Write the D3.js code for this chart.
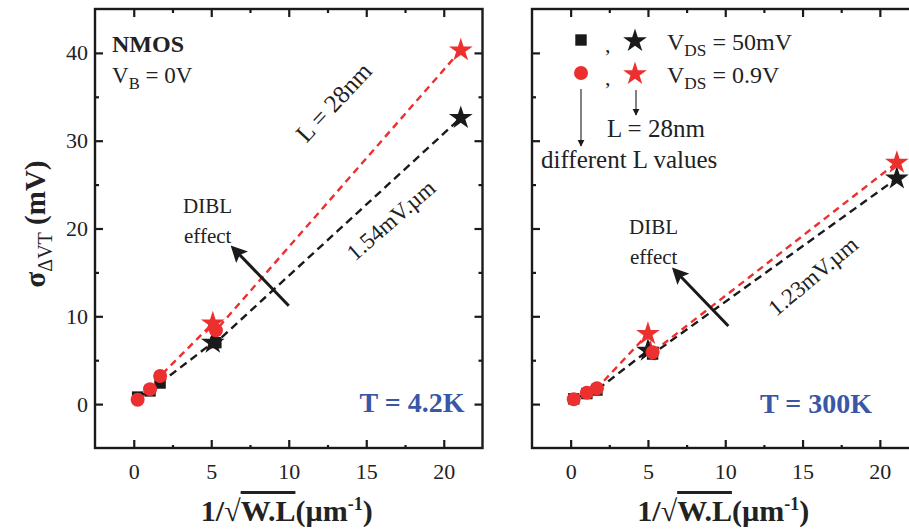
<!DOCTYPE html>
<html>
<head>
<meta charset="utf-8">
<script src="https://cdn.jsdelivr.net/npm/d3@7"></script>
<style>
  html, body { margin: 0; padding: 0; background: #fff; }
  svg { display: block; font-family: "Liberation Serif", "Times New Roman", serif; }
</style>
</head>
<body>
<svg id="chart" width="909" height="531"></svg>
<script>
// ---- data: sigma(ΔVT) in mV versus 1/sqrt(W·L) in µm^-1 ----
const xTicks = [0, 5, 10, 15, 20];
const xMinor = [2.5, 7.5, 12.5, 17.5];
const yTicks = [0, 10, 20, 30, 40];
const yMinor = [5, 15, 25, 35];

// T = 4.2 K
const cold_x_L      = [0.25, 1.05, 1.7, 5.3];   // different L values
const cold_sq_50mV  = [0.8, 1.5, 2.4, 7.0];     // squares, VDS = 50 mV
const cold_ci_09V   = [0.5, 1.7, 3.2, 8.4];     // circles, VDS = 0.9 V
const cold_x_28nm   = [5.1, 21.1];              // L = 28 nm
const cold_st_50mV  = [7.0, 32.6];
const cold_st_09V   = [9.2, 40.3];

// T = 300 K
const warm_x_L      = [0.2, 1.05, 1.7, 5.3];
const warm_sq_50mV  = [0.6, 1.2, 1.6, 5.7];
const warm_ci_09V   = [0.55, 1.3, 1.8, 5.9];
const warm_x_28nm   = [5.0, 21.1];
const warm_st_50mV  = [6.1, 25.7];
const warm_st_09V   = [8.0, 27.5];

const RED = "#ec3030", BLACK = "#1a1a1a", BLUE = "#3a56a6", TXT = "#222";

const svg = d3.select("#chart");
const y = d3.scaleLinear().domain([-5, 45]).range([448, 9]);

const star = d3.symbol().type(d3.symbolStar).size(175);
const square = d3.symbol().type(d3.symbolSquare).size(130);

function panel(x0, x1, d, showY) {
  const x = d3.scaleLinear().domain([-2.5, 22.5]).range([x0, x1]);
  const g = svg.append("g");
  const top = y.range()[1], bot = y.range()[0];

  // ticks (all inward), labels on bottom (and left on first panel)
  const styleAxis = sel => {
    sel.select(".domain").remove();
    sel.selectAll(".tick line").attr("stroke", BLACK).attr("stroke-width", 2.2);
    sel.selectAll(".tick text").attr("fill", TXT).attr("font-size", 22)
      .attr("font-family", "Liberation Serif, serif");
  };
  g.append("g").attr("transform", `translate(0,${bot})`)
    .call(d3.axisBottom(x).tickValues(xTicks).tickSize(-8).tickPadding(15)).call(styleAxis);
  g.append("g").attr("transform", `translate(0,${bot})`)
    .call(d3.axisBottom(x).tickValues(xMinor).tickSize(-3).tickFormat("")).call(styleAxis);
  g.append("g").attr("transform", `translate(0,${top})`)
    .call(d3.axisTop(x).tickValues(xTicks).tickSize(-8).tickFormat("")).call(styleAxis);
  g.append("g").attr("transform", `translate(0,${top})`)
    .call(d3.axisTop(x).tickValues(xMinor).tickSize(-4).tickFormat("")).call(styleAxis);
  g.append("g").attr("transform", `translate(${x0},0)`)
    .call(d3.axisLeft(y).tickValues(yTicks).tickSize(-8).tickPadding(7)
      .tickFormat(showY ? d3.format("d") : "")).call(styleAxis);
  g.append("g").attr("transform", `translate(${x0},0)`)
    .call(d3.axisLeft(y).tickValues(yMinor).tickSize(-4).tickFormat("")).call(styleAxis);
  g.append("g").attr("transform", `translate(${x1},0)`)
    .call(d3.axisRight(y).tickValues(yTicks).tickSize(-8).tickFormat("")).call(styleAxis);
  g.append("g").attr("transform", `translate(${x1},0)`)
    .call(d3.axisRight(y).tickValues(yMinor).tickSize(-4).tickFormat("")).call(styleAxis);

  // frame
  g.append("rect").attr("x", x0).attr("y", top).attr("width", x1 - x0).attr("height", bot - top)
    .attr("fill", "none").attr("stroke", BLACK).attr("stroke-width", 2.4);

  // dashed connecting lines, one per bias
  const line = d3.line().x(p => x(p[0])).y(p => y(p[1]));
  const pts = (xs, ys) => xs.map((v, i) => [v, ys[i]]);
  const blackPts = pts(d.xL, d.sq).concat(pts(d.x28, d.st50)).sort((a, b) => a[0] - b[0]);
  const redPts = pts(d.xL, d.ci).concat(pts(d.x28, d.st09)).sort((a, b) => a[0] - b[0]);
  g.append("path").attr("d", line(blackPts)).attr("fill", "none").attr("stroke", BLACK)
    .attr("stroke-width", 2.4).attr("stroke-dasharray", "8,5");
  g.append("path").attr("d", line(redPts)).attr("fill", "none").attr("stroke", RED)
    .attr("stroke-width", 2.4).attr("stroke-dasharray", "7,5");

  g.selectAll(null).data(pts(d.x28, d.st50)).join("path").attr("d", star)
    .attr("transform", p => `translate(${x(p[0])},${y(p[1])})`).attr("fill", BLACK);
  g.selectAll(null).data(pts(d.xL, d.sq)).join("path").attr("d", square)
    .attr("transform", p => `translate(${x(p[0])},${y(p[1])})`).attr("fill", BLACK);
  g.selectAll(null).data(pts(d.xL, d.ci)).join("circle")
    .attr("cx", p => x(p[0])).attr("cy", p => y(p[1])).attr("r", 7).attr("fill", RED);
  g.selectAll(null).data(pts(d.x28, d.st09)).join("path").attr("d", star)
    .attr("transform", p => `translate(${x(p[0])},${y(p[1])})`).attr("fill", RED);

  // x axis title: 1/√(W.L) (µm^-1)
  const xt = g.append("text").attr("x", (x0 + x1) / 2 - 2).attr("y", 521)
    .attr("text-anchor", "middle").attr("font-size", 30).attr("font-weight", "bold").attr("fill", TXT);
  xt.append("tspan").text("1/√");
  xt.append("tspan").text("W.L").style("text-decoration", "overline");
  xt.append("tspan").text("(µm");
  xt.append("tspan").text("-1").attr("font-size", 18).attr("dy", -11);
  xt.append("tspan").text(")").attr("dy", 11);

  return {g, x};
}

const L = panel(95, 482.5, {xL: cold_x_L, sq: cold_sq_50mV, ci: cold_ci_09V,
  x28: cold_x_28nm, st50: cold_st_50mV, st09: cold_st_09V}, true);
const R = panel(532, 918.5, {xL: warm_x_L, sq: warm_sq_50mV, ci: warm_ci_09V,
  x28: warm_x_28nm, st50: warm_st_50mV, st09: warm_st_09V}, false);

// y axis title
const yt = svg.append("text").attr("transform", "translate(45,224) rotate(-90)")
  .attr("text-anchor", "middle").attr("font-size", 29).attr("font-weight", "bold").attr("fill", TXT);
yt.append("tspan").text("σ");
yt.append("tspan").text("ΔVT").attr("font-size", 20).attr("font-weight", "normal").attr("dy", 7);
yt.append("tspan").text(" (mV)").attr("dy", -7);

// arrow heads
const defs = svg.append("defs");
defs.append("marker").attr("id", "bigHead").attr("viewBox", "0 0 10 10").attr("refX", 8).attr("refY", 5)
  .attr("markerWidth", 5.5).attr("markerHeight", 5.5).attr("orient", "auto").attr("markerUnits", "strokeWidth")
  .append("path").attr("d", "M0,0 L10,5 L0,10 L2,5 Z").attr("fill", BLACK);
defs.append("marker").attr("id", "thinHead").attr("viewBox", "0 0 10 10").attr("refX", 9).attr("refY", 5)
  .attr("markerWidth", 7).attr("markerHeight", 9).attr("orient", "auto").attr("markerUnits", "userSpaceOnUse")
  .append("path").attr("d", "M0,0 L10,5 L0,10 Z").attr("fill", BLACK);

function txt(x, yy, s, size, opts = {}) {
  const t = svg.append("text").attr("x", x).attr("y", yy).attr("font-size", size)
    .attr("fill", opts.fill || TXT).attr("font-weight", opts.bold ? "bold" : "normal");
  if (opts.anchor) t.attr("text-anchor", opts.anchor);
  if (opts.rotate !== undefined) t.attr("transform", `rotate(${opts.rotate},${x},${yy})`);
  t.text(s);
  return t;
}
function sub(x, yy, main, subs, rest, size) {
  const t = svg.append("text").attr("x", x).attr("y", yy).attr("font-size", size).attr("fill", TXT);
  t.append("tspan").text(main);
  t.append("tspan").text(subs).attr("font-size", size * 0.72).attr("dy", 6);
  t.append("tspan").text(rest).attr("dy", -6);
  return t;
}

// ---- left panel annotations ----
txt(112, 52, "NMOS", 24, {bold: true});
sub(112, 83, "V", "B", " = 0V", 23);
txt(340, 108, "L = 28nm", 25, {anchor: "middle", rotate: -47});
txt(396, 226, "1.54mV.µm", 23, {anchor: "middle", rotate: -41});
txt(183, 213, "DIBL", 21);
txt(184, 243, "effect", 21);
svg.append("line").attr("x1", L.x(10.0)).attr("y1", y(11.2)).attr("x2", L.x(6.4)).attr("y2", y(17.8))
  .attr("stroke", BLACK).attr("stroke-width", 3).attr("marker-end", "url(#bigHead)");
txt(412, 412, "T = 4.2K", 28, {bold: true, fill: BLUE, anchor: "middle"});

// ---- right panel annotations ----
svg.append("path").attr("d", square).attr("transform", "translate(581,40)").attr("fill", BLACK);
txt(605, 52, ",", 22);
svg.append("path").attr("d", star).attr("transform", "translate(635,41)").attr("fill", BLACK);
sub(667, 50, "V", "DS", " = 50mV", 24);
svg.append("circle").attr("cx", 581).attr("cy", 73).attr("r", 7).attr("fill", RED);
txt(605, 85, ",", 22);
svg.append("path").attr("d", star).attr("transform", "translate(635,74)").attr("fill", RED);
sub(667, 83, "V", "DS", " = 0.9V", 24);
svg.append("line").attr("x1", 581).attr("y1", 89).attr("x2", 581).attr("y2", 146)
  .attr("stroke", BLACK).attr("stroke-width", 1.1).attr("marker-end", "url(#thinHead)");
svg.append("line").attr("x1", 636).attr("y1", 90).attr("x2", 636).attr("y2", 115)
  .attr("stroke", BLACK).attr("stroke-width", 1.1).attr("marker-end", "url(#thinHead)");
txt(607, 137, "L = 28nm", 25);
txt(541, 168, "different L values", 25);
txt(629, 234, "DIBL", 21);
txt(630, 264, "effect", 21);
svg.append("line").attr("x1", R.x(10.2)).attr("y1", y(8.9)).attr("x2", R.x(6.7)).attr("y2", y(15.3))
  .attr("stroke", BLACK).attr("stroke-width", 3).attr("marker-end", "url(#bigHead)");
txt(818, 282, "1.23mV.µm", 23, {anchor: "middle", rotate: -40});
txt(816, 413, "T = 300K", 28, {bold: true, fill: BLUE, anchor: "middle"});
</script>
</body>
</html>
